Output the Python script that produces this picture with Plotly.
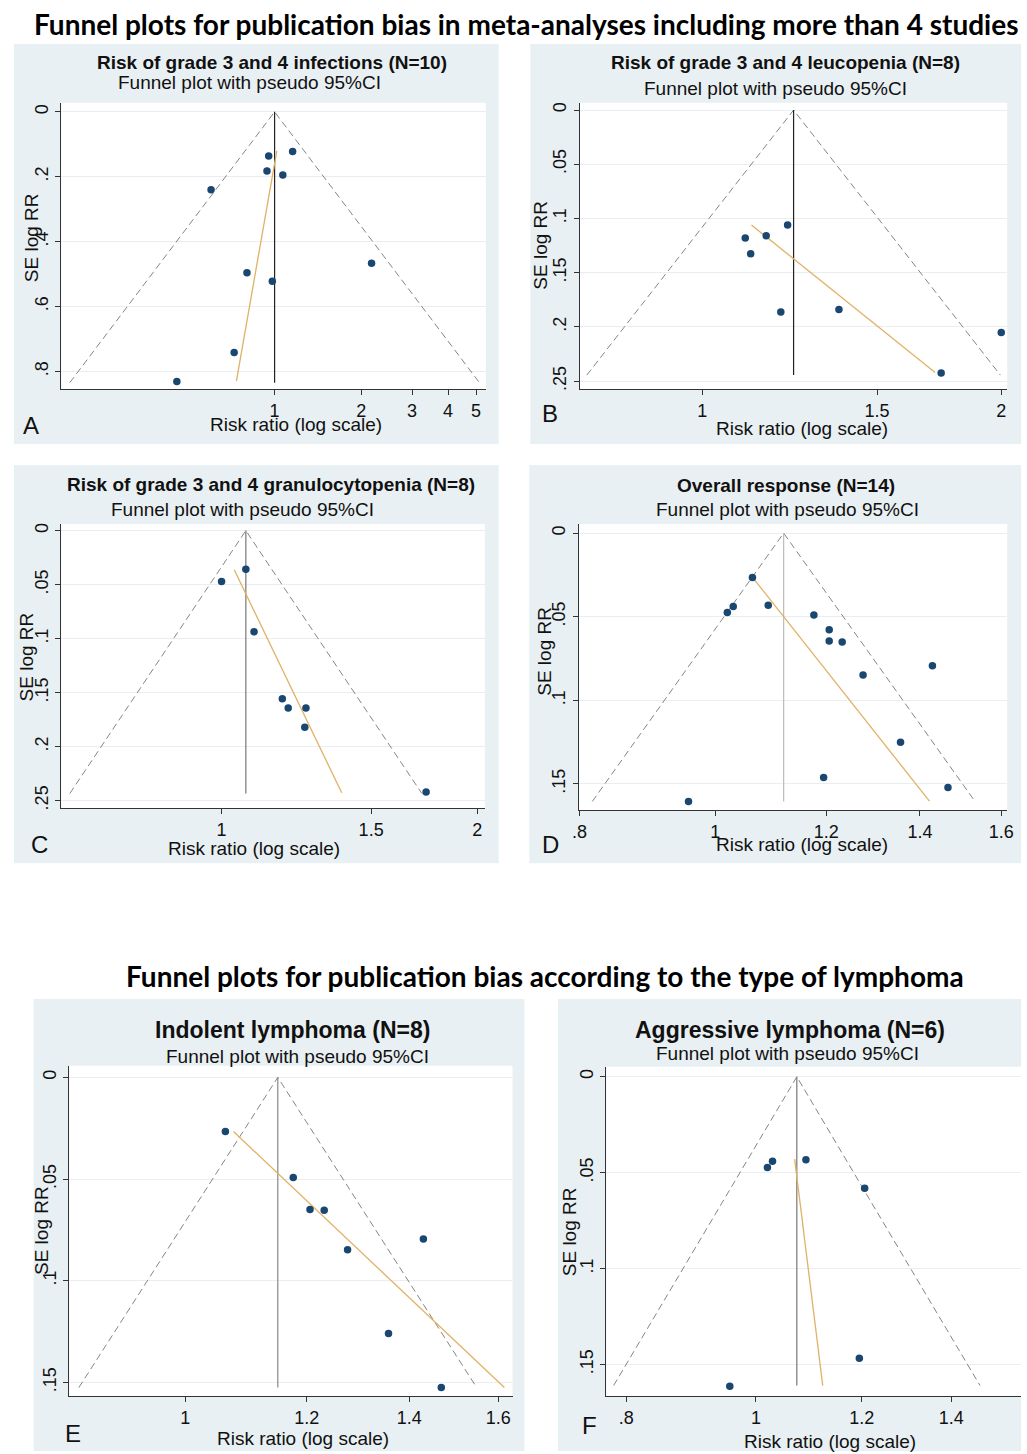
import math
import plotly.graph_objects as go

W, H = 1027, 1454

# ---------------- data ----------------
A_rr = [1.155, 0.954, 0.941, 1.068, 0.602, 2.17, 0.802, 0.982, 0.724, 0.458]
A_se = [0.122, 0.136, 0.182, 0.195, 0.240, 0.467, 0.496, 0.522, 0.742, 0.831]
A_pooled, A_semax = 1.0, 0.835
A_egger_rr = [1.018, 0.737]
A_egger_se = [0.12, 0.83]

B_rr = [1.219, 1.105, 1.160, 1.119, 1.200, 1.373, 1.740, 2.0]
B_se = [0.106, 0.118, 0.116, 0.1326, 0.1864, 0.1839, 0.2425, 0.2053]
B_pooled, B_semax = 1.236, 0.2445
B_egger_rr = [1.121, 1.716]
B_egger_se = [0.106, 0.2422]

C_rr = [1.068, 1.0, 1.092, 1.179, 1.198, 1.257, 1.253, 1.741]
C_se = [0.0357, 0.0471, 0.0937, 0.1556, 0.1642, 0.1642, 0.182, 0.2421]
C_pooled, C_semax = 1.068, 0.2435
C_egger_rr = [1.035, 1.385]
C_egger_se = [0.0363, 0.2428]

D_rr = [1.063, 1.020, 1.030, 1.091, 1.176, 1.206, 1.206, 1.232, 1.429, 1.275, 1.356, 1.195, 1.466, 0.957]
D_se = [0.0266, 0.0475, 0.0439, 0.0431, 0.049, 0.0578, 0.0645, 0.0651, 0.0793, 0.0848, 0.1251, 0.1462, 0.1522, 0.1605]
D_pooled, D_semax = 1.119, 0.1605
D_egger_rr = [1.065, 1.422]
D_egger_se = [0.0272, 0.1603]

E_rr = [1.062, 1.176, 1.206, 1.232, 1.430, 1.276, 1.357, 1.469]
E_se = [0.0266, 0.0492, 0.0649, 0.0653, 0.0794, 0.0848, 0.1259, 0.1525]
E_pooled, E_semax = 1.149, 0.1525
E_egger_rr = [1.075, 1.615]
E_egger_se = [0.0266, 0.1525]

F_rr = [0.956, 1.020, 1.029, 1.090, 1.206, 1.195]
F_se = [0.1613, 0.0473, 0.0441, 0.0432, 0.0581, 0.1467]
F_pooled, F_semax = 1.073, 0.161
F_egger_rr = [1.069, 1.122]
F_egger_se = [0.0429, 0.161]

se_ticks_big = [0, 0.2, 0.4, 0.6, 0.8]
se_ticks_big_txt = ["0", ".2", ".4", ".6", ".8"]
se_ticks_25 = [0, 0.05, 0.1, 0.15, 0.2, 0.25]
se_ticks_25_txt = ["0", ".05", ".1", ".15", ".2", ".25"]
se_ticks_15 = [0, 0.05, 0.1, 0.15]
se_ticks_15_txt = ["0", ".05", ".1", ".15"]

rr_ticks_A = [1, 2, 3, 4, 5]
rr_ticks_A_txt = ["1", "2", "3", "4", "5"]
rr_ticks_BC = [1, 1.5, 2]
rr_ticks_BC_txt = ["1", "1.5", "2"]
rr_ticks_D = [0.8, 1, 1.2, 1.4, 1.6]
rr_ticks_D_txt = [".8", "1", "1.2", "1.4", "1.6"]
rr_ticks_E = [1, 1.2, 1.4, 1.6]
rr_ticks_E_txt = ["1", "1.2", "1.4", "1.6"]
rr_ticks_F = [0.8, 1, 1.2, 1.4]
rr_ticks_F_txt = [".8", "1", "1.2", "1.4"]

titles = [
    "Risk of grade 3 and 4 infections (N=10)",
    "Risk of grade 3 and 4 leucopenia (N=8)",
    "Risk of grade 3 and 4 granulocytopenia (N=8)",
    "Overall response (N=14)",
    "Indolent lymphoma (N=8)",
    "Aggressive lymphoma (N=6)",
]
subtitle = "Funnel plot with pseudo 95%CI"
xtitle = "Risk ratio (log scale)"
ytitle = "SE log RR"
letters = ["A", "B", "C", "D", "E", "F"]
main_title_1 = "Funnel plots for publication bias in meta-analyses including more than 4 studies"
main_title_2 = "Funnel plots for publication bias according to the type of lymphoma"

# ---------------- layout config (pixels) ----------------
panels = [
    dict(rr=A_rr, se=A_se, pooled=A_pooled, semax=A_semax, erc=A_egger_rr, ese=A_egger_se,
         yt=se_ticks_big, ytt=se_ticks_big_txt, xt=rr_ticks_A, xtt=rr_ticks_A_txt,
         xr=[-0.740, 0.733], yr=[0.855, -0.028],
         bg=[7, 498, 43, 444], dom=[55, 485, 102, 389], vcol="#222222",
         title_pos=(268, 62), tsize=19, sub_pos=(246, 82), xt_pos=(293, 424), yt_pos=(25, 237), let_pos=(24, 425)),
    dict(rr=B_rr, se=B_se, pooled=B_pooled, semax=B_semax, erc=B_egger_rr, ese=B_egger_se,
         yt=se_ticks_25, ytt=se_ticks_25_txt, xt=rr_ticks_BC, xtt=rr_ticks_BC_txt,
         xr=[-0.1233, 0.307], yr=[0.2575, -0.0067],
         bg=[530, 1027, 43, 444], dom=[580, 1013, 102, 389], vcol="#222222",
         title_pos=(788, 62), tsize=19, sub_pos=(778, 88), xt_pos=(805, 428), yt_pos=(540, 245), let_pos=(550, 413)),
    dict(rr=C_rr, se=C_se, pooled=C_pooled, semax=C_semax, erc=C_egger_rr, ese=C_egger_se,
         yt=se_ticks_25, ytt=se_ticks_25_txt, xt=rr_ticks_BC, xtt=rr_ticks_BC_txt,
         xr=[-0.1887, 0.310], yr=[0.2572, -0.0062],
         bg=[7, 498, 465, 864], dom=[55, 484, 524, 809], vcol="#777777",
         title_pos=(267, 484), tsize=19, sub_pos=(239, 510), xt_pos=(250, 849), yt_pos=(20, 657), let_pos=(33, 845)),
    dict(rr=D_rr, se=D_se, pooled=D_pooled, semax=D_semax, erc=D_egger_rr, ese=D_egger_se,
         yt=se_ticks_15, ytt=se_ticks_15_txt, xt=rr_ticks_D, xtt=rr_ticks_D_txt,
         xr=[-0.0975, 0.2084], yr=[0.1658, -0.0055],
         bg=[529, 1027, 465, 864], dom=[579, 1013, 524, 811], vcol="#bbbbbb",
         title_pos=(789, 486), tsize=19, sub_pos=(790, 510), xt_pos=(805, 845), yt_pos=(545, 652), let_pos=(550, 845)),
    dict(rr=E_rr, se=E_se, pooled=E_pooled, semax=E_semax, erc=E_egger_rr, ese=E_egger_se,
         yt=se_ticks_15, ytt=se_ticks_15_txt, xt=rr_ticks_E, xtt=rr_ticks_E_txt,
         xr=[-0.0758, 0.2135], yr=[0.1567, -0.0057],
         bg=[27, 524, 1000, 1453], dom=[63, 512, 1067, 1398], vcol="#888888",
         title_pos=(289, 1031), tsize=23, sub_pos=(294, 1058), xt_pos=(300, 1440), yt_pos=(35, 1232), let_pos=(67, 1435)),
    dict(rr=F_rr, se=F_se, pooled=F_pooled, semax=F_semax, erc=F_egger_rr, ese=F_egger_se,
         yt=se_ticks_15, ytt=se_ticks_15_txt, xt=rr_ticks_F, xtt=rr_ticks_F_txt,
         xr=[-0.1119, 0.1983], yr=[0.1665, -0.0052],
         bg=[558, 1027, 1000, 1453], dom=[607, 1027, 1068, 1398], vcol="#777777",
         title_pos=(793, 1031), tsize=23, sub_pos=(790, 1055), xt_pos=(834, 1443), yt_pos=(570, 1233), let_pos=(590, 1427)),
]

FONT = "Liberation Sans, Arial, sans-serif"
BG = "#e9f0f3"
NAVY = "#1a476f"
ORANGE = "#e0b264"


def px(x):
    return x / W


def py(y):
    return 1 - y / H


fig = go.Figure()
shapes = []
annotations = []
layout_axes = {}

for i, p in enumerate(panels):
    n = "" if i == 0 else str(i + 1)
    xa, ya = "x" + n, "y" + n
    # funnel (pseudo 95% CI limits)
    th = math.log(p["pooled"])
    sm = p["semax"]
    fx = [math.exp(th - 1.96 * sm), p["pooled"], math.exp(th + 1.96 * sm)]
    fy = [sm, 0, sm]
    fig.add_trace(go.Scatter(x=fx, y=fy, mode="lines", xaxis=xa, yaxis=ya,
                             line=dict(color="#858585", width=1, dash="7px,4px"), hoverinfo="skip"))
    fig.add_trace(go.Scatter(x=[p["pooled"], p["pooled"]], y=[0, sm], mode="lines", xaxis=xa, yaxis=ya,
                             line=dict(color=p["vcol"], width=1.2), hoverinfo="skip"))
    fig.add_trace(go.Scatter(x=p["erc"], y=p["ese"], mode="lines", xaxis=xa, yaxis=ya,
                             line=dict(color=ORANGE, width=1.3), hoverinfo="skip"))
    fig.add_trace(go.Scatter(x=p["rr"], y=p["se"], mode="markers", xaxis=xa, yaxis=ya,
                             marker=dict(color=NAVY, size=7.5)))

    l, r, t, b = p["dom"]
    axis_common = dict(showline=True, linecolor="#333333", linewidth=1, ticks="outside", ticklen=5,
                       tickcolor="#333333", tickfont=dict(family=FONT, size=18, color="#111111"),
                       zeroline=False)
    layout_axes["xaxis" + n] = dict(axis_common, type="log", range=p["xr"], domain=[px(l), px(r)],
                                    anchor=ya, tickvals=p["xt"], ticktext=p["xtt"], showgrid=False)
    layout_axes["yaxis" + n] = dict(axis_common, range=p["yr"], domain=[py(b), py(t)], anchor=xa,
                                    tickvals=p["yt"], ticktext=p["ytt"], showgrid=True,
                                    gridcolor="#e8eef1", gridwidth=1, tickangle=-90)
    # backgrounds
    bl, br, bt, bb = p["bg"]
    shapes.append(dict(type="rect", xref="paper", yref="paper", x0=px(bl), x1=px(br), y0=py(bb), y1=py(bt),
                       fillcolor=BG, line=dict(width=0), layer="below"))
    shapes.append(dict(type="rect", xref="paper", yref="paper", x0=px(l), x1=px(r), y0=py(b), y1=py(t),
                       fillcolor="white", line=dict(width=0), layer="below"))
    # texts
    annotations.append(dict(text="<b>" + titles[i] + "</b>", x=px(p["title_pos"][0]), y=py(p["title_pos"][1]),
                            xref="paper", yref="paper", showarrow=False, xanchor="center", yanchor="middle",
                            font=dict(family=FONT, size=p["tsize"], color="#111111")))
    annotations.append(dict(text=subtitle, x=px(p["sub_pos"][0]), y=py(p["sub_pos"][1]),
                            xref="paper", yref="paper", showarrow=False, xanchor="center", yanchor="middle",
                            font=dict(family=FONT, size=19, color="#111111")))
    annotations.append(dict(text=xtitle, x=px(p["xt_pos"][0]), y=py(p["xt_pos"][1]),
                            xref="paper", yref="paper", showarrow=False, xanchor="center", yanchor="middle",
                            font=dict(family=FONT, size=19, color="#111111")))
    annotations.append(dict(text=ytitle, x=px(p["yt_pos"][0]), y=py(p["yt_pos"][1]), textangle=-90,
                            xref="paper", yref="paper", showarrow=False, xanchor="center", yanchor="middle",
                            font=dict(family=FONT, size=19, color="#111111")))
    annotations.append(dict(text=letters[i], x=px(p["let_pos"][0]), y=py(p["let_pos"][1]),
                            xref="paper", yref="paper", showarrow=False, xanchor="center", yanchor="middle",
                            font=dict(family=FONT, size=24, color="#111111")))

annotations.append(dict(text="<b>" + main_title_1 + "</b>", x=px(526), y=py(23), xref="paper", yref="paper",
                        showarrow=False, xanchor="center", yanchor="middle",
                        font=dict(family="Lato, Carlito, sans-serif", size=28, color="black")))
annotations.append(dict(text="<b>" + main_title_2 + "</b>", x=px(545), y=py(977), xref="paper", yref="paper",
                        showarrow=False, xanchor="center", yanchor="middle",
                        font=dict(family="Lato, Carlito, sans-serif", size=28, color="black")))

fig.update_layout(width=W, height=H, autosize=False, margin=dict(l=0, r=0, t=0, b=0),
                  paper_bgcolor="white", plot_bgcolor="rgba(0,0,0,0)", showlegend=False,
                  shapes=shapes, annotations=annotations, **layout_axes)

fig.write_html("out.html", config={"displayModeBar": False},
               post_script="document.body.style.margin='0px';document.body.style.overflow='hidden';")
